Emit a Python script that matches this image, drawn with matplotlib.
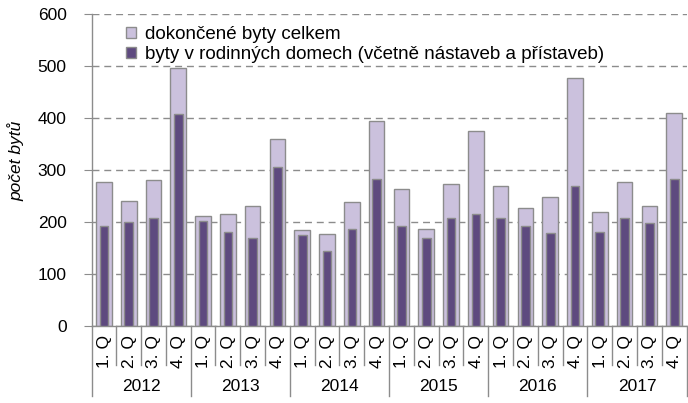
import numpy as np
import matplotlib.pyplot as plt
from matplotlib.patches import Patch
import matplotlib.transforms as mtransforms

years = ["2012", "2013", "2014", "2015", "2016", "2017"]
quarters = ["1. Q", "2. Q", "3. Q", "4. Q"]

# dokončené byty celkem
total = [277, 240, 281, 497,
         212, 215, 230, 360,
         184, 177, 239, 394,
         264, 187, 272, 374,
         269, 227, 248, 476,
         218, 277, 231, 409]
# byty v rodinných domech (včetně nástaveb a přístaveb)
family = [192, 199, 207, 407,
          202, 181, 169, 305,
          174, 143, 187, 282,
          192, 169, 207, 215,
          207, 192, 179, 269,
          181, 207, 197, 282]

plt.rcParams['font.family'] = ['Liberation Sans', 'DejaVu Sans']

light = '#CBC1DD'
dark = '#5E4A7F'
edge = '#8C8C8C'
grey = '#8C8C8C'

fig = plt.figure(figsize=(6.88, 4.03), dpi=100)
ax = fig.add_axes([0.133, 0.192, 0.865, 0.773])

x = np.arange(len(total))
ax.bar(x, total, width=0.63, color=light, edgecolor=edge, linewidth=1, zorder=2)
ax.bar(x, family, width=0.35, color=dark, edgecolor=edge, linewidth=1, zorder=3)

ax.set_xlim(-0.5, len(total) - 0.5)
ax.set_ylim(0, 600)
ax.set_yticks(range(0, 601, 100))
ax.yaxis.grid(True, linestyle=(0, (5, 3.5)), color=grey, linewidth=1)
ax.set_axisbelow(True)

for s in ['top', 'right']:
    ax.spines[s].set_visible(False)
for s in ['left', 'bottom']:
    ax.spines[s].set_color(grey)
    ax.spines[s].set_linewidth(1)

ax.tick_params(axis='y', length=6, color=grey, labelsize=12.5, pad=12)
ax.set_xticks([])
ax.set_ylabel('počet bytů', style='italic', fontsize=12.5)
ax.yaxis.set_label_coords(-0.112, 0.53)

# multi-level category axis
trans = mtransforms.blended_transform_factory(ax.transData, ax.transAxes)
q_len = 39 / 311.5
y_len = 70 / 311.5
for i in range(len(total) + 1):
    b = i - 0.5
    ln = y_len if i % 4 == 0 else q_len
    ax.plot([b, b], [0, -ln], transform=trans, color=grey, lw=1, clip_on=False)
for i in range(len(total)):
    ax.text(i + 0.02, -0.083, quarters[i % 4], transform=trans, rotation=90,
            ha='center', va='center', fontsize=12.5)
for k, yr in enumerate(years):
    ax.text(4 * k + 1.5, -0.195, yr, transform=trans,
            ha='center', va='center', fontsize=12.5)

handles = [Patch(facecolor=light, edgecolor=edge, label='dokončené byty celkem'),
           Patch(facecolor=dark, edgecolor=edge,
                 label='byty v rodinných domech (včetně nástaveb a přístaveb)')]
ax.legend(handles=handles, loc='upper left', bbox_to_anchor=(0.045, 0.985),
          frameon=False, fontsize=13.5, handlelength=0.55, handleheight=0.55,
          handletextpad=0.5, labelspacing=0.15, borderaxespad=0)

fig.savefig('out.png', dpi=100)
